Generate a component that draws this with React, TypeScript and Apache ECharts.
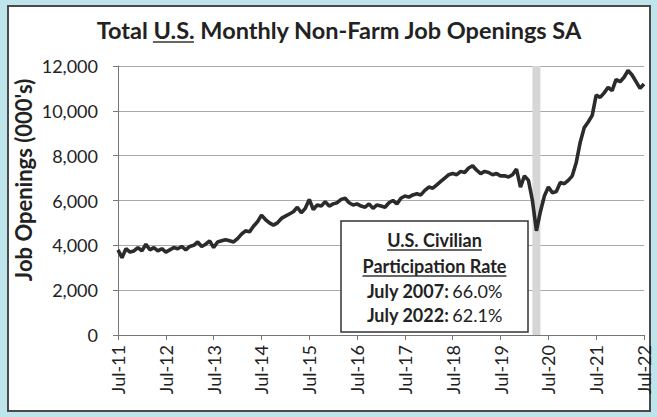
import React, { useEffect, useRef } from "react";
import * as echarts from "echarts";

// Job openings (thousands), seasonally adjusted
const jobs2011 = [3800, 3450, 3850, 3700, 3750, 3900]; // Jul-Dec
const jobs2012 = [3750, 4050, 3800, 3900, 3750, 3850, 3700, 3800, 3900, 3850, 3950, 3800];
const jobs2013 = [3950, 4000, 4150, 3950, 4050, 4200, 3900, 4150, 4200, 4250, 4200, 4150];
const jobs2014 = [4300, 4500, 4650, 4600, 4850, 5050, 5350, 5150, 5000, 4900, 5000, 5200];
const jobs2015 = [5300, 5400, 5500, 5700, 5450, 5650, 6050, 5600, 5800, 5750, 5950, 5750];
const jobs2016 = [5850, 5900, 6050, 6100, 5900, 5800, 5850, 5750, 5700, 5850, 5650, 5800];
const jobs2017 = [5750, 5700, 5900, 6000, 5850, 6100, 6200, 6150, 6250, 6300, 6250, 6450];
const jobs2018 = [6600, 6550, 6700, 6850, 7000, 7150, 7200, 7150, 7300, 7250, 7450, 7550];
const jobs2019 = [7350, 7200, 7300, 7250, 7150, 7200, 7100, 7100, 7050, 7150, 7400, 6600];
const jobs2020 = [7100, 6900, 6000, 4650, 5500, 6200, 6600, 6350, 6400, 6800, 6750, 6900];
const jobs2021 = [7100, 7700, 8600, 9250, 9500, 9800, 10700, 10600, 10800, 11050, 10900, 11400];
const jobs2022 = [11300, 11500, 11800, 11600, 11300, 11000, 11200]; // Jan-Jul

const monthNames = ["Jan", "Feb", "Mar", "Apr", "May", "Jun", "Jul", "Aug", "Sep", "Oct", "Nov", "Dec"];
const startYear = 2011;
const startMonth = 6; // July

const values = [
  ...jobs2011, ...jobs2012, ...jobs2013, ...jobs2014, ...jobs2015, ...jobs2016,
  ...jobs2017, ...jobs2018, ...jobs2019, ...jobs2020, ...jobs2021, ...jobs2022,
];

const categories: string[] = values.map((_, i) => {
  const m = startMonth + i;
  const y = startYear + Math.floor(m / 12);
  return monthNames[m % 12] + "-" + String(y % 100).padStart(2, "0");
});

const recessionBand = ["Mar-20", "May-20"];

const titleText = "Total U.S. Monthly Non-Farm Job Openings SA";
const yTitle = "Job Openings (000's)";
const boxLines = ["U.S. Civilian", "Participation Rate"];
const boxRates = [
  { label: "July 2007:", value: "66.0%" },
  { label: "July 2022:", value: "62.1%" },
];

const FONT = "Lato, 'Open Sans', sans-serif";

function measure(text: string, font: string): number {
  const c = document.createElement("canvas").getContext("2d");
  if (!c) return text.length * 10;
  c.font = font;
  return c.measureText(text).width;
}

export default function App() {
  const ref = useRef<HTMLDivElement>(null);

  useEffect(() => {
    if (!ref.current) return;
    const chart = echarts.init(ref.current, null, { renderer: "svg" });

    // Title fitted to the reference width
    const tBase = measure(titleText, `bold 22px ${FONT}`);
    const titleSize = (22 * 486) / tBase;
    const titleFont = `bold ${titleSize}px ${FONT}`;
    const titleW = measure(titleText, titleFont);
    const titleCx = 339;
    const titleLeft = titleCx - titleW / 2;
    const usStart = titleLeft + measure("Total ", titleFont);
    const usEnd = usStart + measure("U.S.", titleFont);

    // Y title fitted to the reference length
    const yBase = measure(yTitle, `bold 18px ${FONT}`);
    const ySize = Math.min(22, (18 * 215) / yBase);

    // Box text
    const bBase = measure("Participation Rate", `bold 18px ${FONT}`);
    const boxSize = (18 * 144) / bBase;
    const boxFont = `bold ${boxSize}px ${FONT}`;
    const boxCx = 434.5;
    const lineYs = [240, 266];
    const rateYs = [291, 315];

    const graphics: any[] = [
      {
        type: "text",
        x: titleCx,
        y: 30,
        z: 100,
        style: {
          text: titleText,
          fontFamily: FONT,
          fontWeight: "bold",
          fontSize: titleSize,
          fill: "#222",
          textAlign: "center",
          textVerticalAlign: "middle",
        },
      },
      {
        type: "line",
        z: 100,
        shape: { x1: usStart, y1: 42, x2: usEnd, y2: 42 },
        style: { stroke: "#333", lineWidth: 1.6 },
      },
      {
        type: "text",
        x: 23,
        y: 180,
        rotation: Math.PI / 2,
        z: 100,
        style: {
          text: yTitle,
          fontFamily: FONT,
          fontWeight: "bold",
          fontSize: ySize,
          fill: "#222",
          textAlign: "center",
          textVerticalAlign: "middle",
        },
      },
      {
        type: "rect",
        z: 100,
        shape: { x: 341, y: 221, width: 187, height: 111 },
        style: { fill: "#fff", stroke: "#333", lineWidth: 1.5 },
      },
    ];

    boxLines.forEach((t, i) => {
      const w = measure(t, boxFont);
      graphics.push({
        type: "text",
        x: boxCx,
        y: lineYs[i],
        z: 101,
        style: {
          text: t,
          fontFamily: FONT,
          fontWeight: "bold",
          fontSize: boxSize,
          fill: "#222",
          textAlign: "center",
          textVerticalAlign: "middle",
        },
      });
      graphics.push({
        type: "line",
        z: 101,
        shape: { x1: boxCx - w / 2, y1: lineYs[i] + 10, x2: boxCx + w / 2, y2: lineYs[i] + 10 },
        style: { stroke: "#333", lineWidth: 1.4 },
      });
    });

    boxRates.forEach((r, i) => {
      graphics.push({
        type: "text",
        x: boxCx,
        y: rateYs[i],
        z: 101,
        style: {
          text: `{b|${r.label}} {r|${r.value}}`,
          textAlign: "center",
          textVerticalAlign: "middle",
          rich: {
            b: { fontFamily: FONT, fontWeight: "bold", fontSize: boxSize, fill: "#222" },
            r: { fontFamily: FONT, fontWeight: "normal", fontSize: boxSize, fill: "#222" },
          },
        },
      });
    });

    const showYear = (i: number) => i % 12 === 0;

    chart.setOption({
      animation: false,
      grid: { left: 118, right: 13, top: 66, bottom: 82, containLabel: false, outerBoundsMode: "none" },
      xAxis: {
        type: "category",
        data: categories,
        boundaryGap: false,
        axisLine: { show: true, lineStyle: { color: "#777", width: 1 } },
        axisTick: { show: true, interval: (i: number) => showYear(i), length: 5, lineStyle: { color: "#777" } },
        axisLabel: {
          interval: (i: number) => showYear(i),
          rotate: 90,
          fontSize: 18,
          fontFamily: FONT,
          color: "#222",
          margin: 10,
        },
        splitLine: { show: false },
      },
      yAxis: {
        type: "value",
        min: 0,
        max: 12000,
        interval: 2000,
        axisLine: { show: true, lineStyle: { color: "#777", width: 1 } },
        axisTick: { show: true, length: 5, lineStyle: { color: "#777" } },
        axisLabel: {
          fontSize: 18,
          fontFamily: FONT,
          color: "#222",
          margin: 20,
          formatter: (v: number) => v.toLocaleString("en-US"),
        },
        splitLine: { show: true, lineStyle: { color: "#aaaaaa", width: 1 } },
      },
      series: [
        {
          type: "line",
          data: values,
          showSymbol: false,
          symbol: "none",
          lineStyle: { color: "#2b2b2b", width: 3.6 },
          z: 5,
          markArea: {
            silent: true,
            itemStyle: { color: "#d6d6d6" },
            data: [[{ xAxis: recessionBand[0] }, { xAxis: recessionBand[1] }]],
          },
        },
      ],
      graphic: { elements: graphics },
    });

    return () => chart.dispose();
  }, []);

  return (
    <div style={{ position: "fixed", left: 0, top: 0, width: 657, height: 417, background: "#bfe5ec" }}>
      <div
        style={{
          position: "absolute",
          left: 7,
          top: 5,
          width: 644,
          height: 407,
          background: "#fff",
          border: "2px solid #4a4a4a",
          boxSizing: "border-box",
        }}
      />
      <div ref={ref} style={{ position: "absolute", left: 0, top: 0, width: 657, height: 417 }} />
    </div>
  );
}
